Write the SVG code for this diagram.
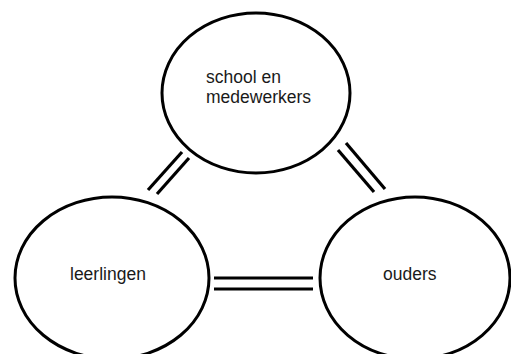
<svg xmlns="http://www.w3.org/2000/svg" width="511" height="354" viewBox="0 0 511 354">
<style>
.node ellipse{fill:#fff;stroke:#000;stroke-width:3}
.lbl{font-family:"Liberation Sans",Arial,sans-serif;font-size:17.5px;fill:#1a1a1a}
#connectors line{stroke:#000;stroke-width:3.2}
</style>
<rect width="511" height="354" fill="#fff"/>
<g id="connectors">
<line x1="182" y1="152" x2="148" y2="190"/>
<line x1="189" y1="158" x2="157" y2="194"/>
<line x1="338" y1="150" x2="374" y2="192"/>
<line x1="346" y1="143" x2="385" y2="189"/>
<line x1="214" y1="278" x2="313" y2="278"/>
<line x1="214" y1="289" x2="313" y2="289"/>
</g>
<g id="school" class="node">
<ellipse cx="256" cy="93" rx="94" ry="80"/>
<text class="lbl" x="206" y="83">school en</text>
<text class="lbl" x="206" y="103">medewerkers</text>
</g>
<g id="leerlingen" class="node">
<ellipse cx="112" cy="278" rx="97" ry="81"/>
<text class="lbl" x="70" y="280">leerlingen</text>
</g>
<g id="ouders" class="node">
<ellipse cx="415" cy="278" rx="95" ry="81"/>
<text class="lbl" x="383" y="280">ouders</text>
</g>
</svg>
